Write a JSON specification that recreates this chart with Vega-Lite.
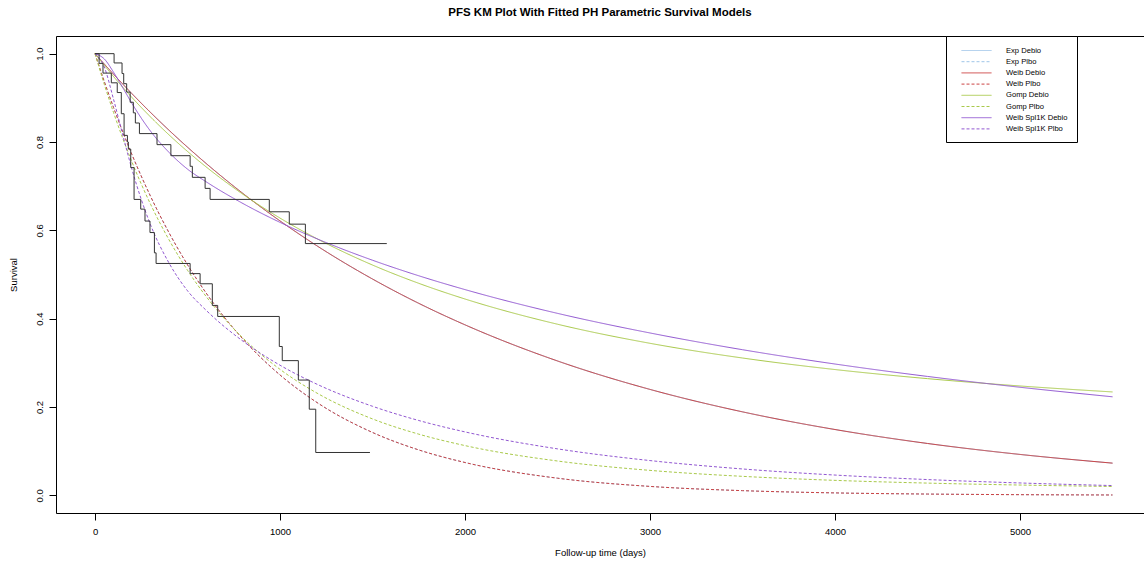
{
  "$schema": "https://vega.github.io/schema/vega-lite/v6.json",
  "width": 1088,
  "height": 477,
  "autosize": {"type": "none"},
  "padding": {"left": 56, "top": 36, "right": 0, "bottom": 52},
  "background": "white",
  "title": {"text": "PFS KM Plot With Fitted PH Parametric Survival Models", "font": "Liberation Sans", "fontSize": 11.5, "fontWeight": "bold", "color": "black", "anchor": "middle", "offset": 17},
  "config": {
    "view": {"stroke": "black", "strokeWidth": 1},
    "axis": {"domain": false, "grid": false, "ticks": true, "tickColor": "black", "tickSize": 7, "tickWidth": 1, "labelFont": "Liberation Sans", "labelFontSize": 9.5, "labelColor": "black", "titleFont": "Liberation Sans", "titleFontSize": 9.5, "titleFontWeight": "normal", "titleColor": "black"},
    "legend": {"orient": "none", "legendX": 890, "legendY": 0, "strokeColor": "black", "fillColor": "white", "padding": 9, "symbolType": "M-3,0H3", "symbolSize": 100, "symbolStrokeWidth": 1, "symbolOffset": 16, "labelOffset": 24, "rowPadding": 1.2, "labelFont": "Liberation Sans", "labelFontSize": 7.6, "labelColor": "black", "cornerRadius": 0}
  },
  "datasets": {
    "curves": [
      {"model":"Exp Debio","t":0,"S":1},{"model":"Exp Debio","t":50,"S":0.9765},{"model":"Exp Debio","t":100,"S":0.9535},{"model":"Exp Debio","t":150,"S":0.9311},{"model":"Exp Debio","t":200,"S":0.9092},{"model":"Exp Debio","t":300,"S":0.8669},{"model":"Exp Debio","t":400,"S":0.8266},{"model":"Exp Debio","t":500,"S":0.7882},{"model":"Exp Debio","t":600,"S":0.7516},{"model":"Exp Debio","t":800,"S":0.6833},{"model":"Exp Debio","t":1000,"S":0.6213},{"model":"Exp Debio","t":1200,"S":0.5648},{"model":"Exp Debio","t":1500,"S":0.4897},{"model":"Exp Debio","t":1750,"S":0.4347},{"model":"Exp Debio","t":2000,"S":0.386},{"model":"Exp Debio","t":2500,"S":0.3042},{"model":"Exp Debio","t":3000,"S":0.2398},{"model":"Exp Debio","t":3500,"S":0.189},{"model":"Exp Debio","t":4000,"S":0.149},{"model":"Exp Debio","t":4500,"S":0.1174},{"model":"Exp Debio","t":5000,"S":0.0926},{"model":"Exp Debio","t":5500,"S":0.0729},
      {"model":"Exp Plbo","t":0,"S":1},{"model":"Exp Plbo","t":50,"S":0.9371},{"model":"Exp Plbo","t":100,"S":0.8781},{"model":"Exp Plbo","t":150,"S":0.8228},{"model":"Exp Plbo","t":200,"S":0.7711},{"model":"Exp Plbo","t":300,"S":0.6771},{"model":"Exp Plbo","t":400,"S":0.5945},{"model":"Exp Plbo","t":500,"S":0.522},{"model":"Exp Plbo","t":600,"S":0.4584},{"model":"Exp Plbo","t":800,"S":0.3535},{"model":"Exp Plbo","t":1000,"S":0.2725},{"model":"Exp Plbo","t":1200,"S":0.2101},{"model":"Exp Plbo","t":1500,"S":0.1423},{"model":"Exp Plbo","t":1750,"S":0.1028},{"model":"Exp Plbo","t":2000,"S":0.0743},{"model":"Exp Plbo","t":2500,"S":0.0388},{"model":"Exp Plbo","t":3000,"S":0.0202},{"model":"Exp Plbo","t":3500,"S":0.0106},{"model":"Exp Plbo","t":4000,"S":0.0055},{"model":"Exp Plbo","t":4500,"S":0.0029},{"model":"Exp Plbo","t":5000,"S":0.0015},{"model":"Exp Plbo","t":5500,"S":0.0008},
      {"model":"Weib Debio","t":0,"S":1},{"model":"Weib Debio","t":50,"S":0.9765},{"model":"Weib Debio","t":100,"S":0.9535},{"model":"Weib Debio","t":150,"S":0.9311},{"model":"Weib Debio","t":200,"S":0.9092},{"model":"Weib Debio","t":300,"S":0.8669},{"model":"Weib Debio","t":400,"S":0.8266},{"model":"Weib Debio","t":500,"S":0.7882},{"model":"Weib Debio","t":600,"S":0.7516},{"model":"Weib Debio","t":800,"S":0.6833},{"model":"Weib Debio","t":1000,"S":0.6213},{"model":"Weib Debio","t":1200,"S":0.5648},{"model":"Weib Debio","t":1500,"S":0.4897},{"model":"Weib Debio","t":1750,"S":0.4347},{"model":"Weib Debio","t":2000,"S":0.386},{"model":"Weib Debio","t":2500,"S":0.3042},{"model":"Weib Debio","t":3000,"S":0.2398},{"model":"Weib Debio","t":3500,"S":0.189},{"model":"Weib Debio","t":4000,"S":0.149},{"model":"Weib Debio","t":4500,"S":0.1174},{"model":"Weib Debio","t":5000,"S":0.0926},{"model":"Weib Debio","t":5500,"S":0.0729},
      {"model":"Weib Plbo","t":0,"S":1},{"model":"Weib Plbo","t":50,"S":0.9371},{"model":"Weib Plbo","t":100,"S":0.8781},{"model":"Weib Plbo","t":150,"S":0.8228},{"model":"Weib Plbo","t":200,"S":0.7711},{"model":"Weib Plbo","t":300,"S":0.6771},{"model":"Weib Plbo","t":400,"S":0.5945},{"model":"Weib Plbo","t":500,"S":0.522},{"model":"Weib Plbo","t":600,"S":0.4584},{"model":"Weib Plbo","t":800,"S":0.3535},{"model":"Weib Plbo","t":1000,"S":0.2725},{"model":"Weib Plbo","t":1200,"S":0.2101},{"model":"Weib Plbo","t":1500,"S":0.1423},{"model":"Weib Plbo","t":1750,"S":0.1028},{"model":"Weib Plbo","t":2000,"S":0.0743},{"model":"Weib Plbo","t":2500,"S":0.0388},{"model":"Weib Plbo","t":3000,"S":0.0202},{"model":"Weib Plbo","t":3500,"S":0.0106},{"model":"Weib Plbo","t":4000,"S":0.0055},{"model":"Weib Plbo","t":4500,"S":0.0029},{"model":"Weib Plbo","t":5000,"S":0.0015},{"model":"Weib Plbo","t":5500,"S":0.0008},
      {"model":"Gomp Debio","t":0,"S":1},{"model":"Gomp Debio","t":50,"S":0.9736},{"model":"Gomp Debio","t":100,"S":0.9483},{"model":"Gomp Debio","t":150,"S":0.924},{"model":"Gomp Debio","t":200,"S":0.9006},{"model":"Gomp Debio","t":300,"S":0.8567},{"model":"Gomp Debio","t":400,"S":0.8161},{"model":"Gomp Debio","t":500,"S":0.7786},{"model":"Gomp Debio","t":600,"S":0.7438},{"model":"Gomp Debio","t":800,"S":0.6815},{"model":"Gomp Debio","t":1000,"S":0.6277},{"model":"Gomp Debio","t":1200,"S":0.5809},{"model":"Gomp Debio","t":1500,"S":0.5214},{"model":"Gomp Debio","t":1750,"S":0.48},{"model":"Gomp Debio","t":2000,"S":0.4445},{"model":"Gomp Debio","t":2500,"S":0.3874},{"model":"Gomp Debio","t":3000,"S":0.3442},{"model":"Gomp Debio","t":3500,"S":0.3109},{"model":"Gomp Debio","t":4000,"S":0.2848},{"model":"Gomp Debio","t":4500,"S":0.2642},{"model":"Gomp Debio","t":5000,"S":0.2476},{"model":"Gomp Debio","t":5500,"S":0.2341},
      {"model":"Gomp Plbo","t":0,"S":1},{"model":"Gomp Plbo","t":50,"S":0.9305},{"model":"Gomp Plbo","t":100,"S":0.8667},{"model":"Gomp Plbo","t":150,"S":0.8082},{"model":"Gomp Plbo","t":200,"S":0.7543},{"model":"Gomp Plbo","t":300,"S":0.6592},{"model":"Gomp Plbo","t":400,"S":0.5785},{"model":"Gomp Plbo","t":500,"S":0.5095},{"model":"Gomp Plbo","t":600,"S":0.4505},{"model":"Gomp Plbo","t":800,"S":0.356},{"model":"Gomp Plbo","t":1000,"S":0.2852},{"model":"Gomp Plbo","t":1200,"S":0.2314},{"model":"Gomp Plbo","t":1500,"S":0.173},{"model":"Gomp Plbo","t":1750,"S":0.1385},{"model":"Gomp Plbo","t":2000,"S":0.1126},{"model":"Gomp Plbo","t":2500,"S":0.0777},{"model":"Gomp Plbo","t":3000,"S":0.0565},{"model":"Gomp Plbo","t":3500,"S":0.043},{"model":"Gomp Plbo","t":4000,"S":0.0339},{"model":"Gomp Plbo","t":4500,"S":0.0277},{"model":"Gomp Plbo","t":5000,"S":0.0233},{"model":"Gomp Plbo","t":5500,"S":0.02},
      {"model":"Weib Spl1K Debio","t":0,"S":1},{"model":"Weib Spl1K Debio","t":50,"S":0.988},{"model":"Weib Spl1K Debio","t":100,"S":0.958},{"model":"Weib Spl1K Debio","t":150,"S":0.923},{"model":"Weib Spl1K Debio","t":200,"S":0.887},{"model":"Weib Spl1K Debio","t":300,"S":0.8245},{"model":"Weib Spl1K Debio","t":400,"S":0.7765},{"model":"Weib Spl1K Debio","t":500,"S":0.7385},{"model":"Weib Spl1K Debio","t":600,"S":0.7101},{"model":"Weib Spl1K Debio","t":800,"S":0.6606},{"model":"Weib Spl1K Debio","t":1000,"S":0.618},{"model":"Weib Spl1K Debio","t":1200,"S":0.5808},{"model":"Weib Spl1K Debio","t":1500,"S":0.5323},{"model":"Weib Spl1K Debio","t":1750,"S":0.4971},{"model":"Weib Spl1K Debio","t":2000,"S":0.4658},{"model":"Weib Spl1K Debio","t":2500,"S":0.412},{"model":"Weib Spl1K Debio","t":3000,"S":0.3676},{"model":"Weib Spl1K Debio","t":3500,"S":0.3297},{"model":"Weib Spl1K Debio","t":4000,"S":0.2973},{"model":"Weib Spl1K Debio","t":4500,"S":0.2692},{"model":"Weib Spl1K Debio","t":5000,"S":0.2447},{"model":"Weib Spl1K Debio","t":5500,"S":0.2231},
      {"model":"Weib Spl1K Plbo","t":0,"S":1},{"model":"Weib Spl1K Plbo","t":50,"S":0.9698},{"model":"Weib Spl1K Plbo","t":100,"S":0.8967},{"model":"Weib Spl1K Plbo","t":150,"S":0.8159},{"model":"Weib Spl1K Plbo","t":200,"S":0.7375},{"model":"Weib Spl1K Plbo","t":300,"S":0.6125},{"model":"Weib Spl1K Plbo","t":400,"S":0.5259},{"model":"Weib Spl1K Plbo","t":500,"S":0.4631},{"model":"Weib Spl1K Plbo","t":600,"S":0.4192},{"model":"Weib Spl1K Plbo","t":800,"S":0.3489},{"model":"Weib Spl1K Plbo","t":1000,"S":0.2946},{"model":"Weib Spl1K Plbo","t":1200,"S":0.2515},{"model":"Weib Spl1K Plbo","t":1500,"S":0.2016},{"model":"Weib Spl1K Plbo","t":1750,"S":0.1694},{"model":"Weib Spl1K Plbo","t":2000,"S":0.1436},{"model":"Weib Spl1K Plbo","t":2500,"S":0.1052},{"model":"Weib Spl1K Plbo","t":3000,"S":0.0787},{"model":"Weib Spl1K Plbo","t":3500,"S":0.0597},{"model":"Weib Spl1K Plbo","t":4000,"S":0.0459},{"model":"Weib Spl1K Plbo","t":4500,"S":0.0357},{"model":"Weib Spl1K Plbo","t":5000,"S":0.028},{"model":"Weib Spl1K Plbo","t":5500,"S":0.0221}
    ],
    "km": [
      {"arm":"Debio","t":0,"S":1},{"arm":"Debio","t":103,"S":0.979},{"arm":"Debio","t":146,"S":0.955},{"arm":"Debio","t":155,"S":0.932},{"arm":"Debio","t":171,"S":0.913},{"arm":"Debio","t":190,"S":0.89},{"arm":"Debio","t":207,"S":0.866},{"arm":"Debio","t":218,"S":0.843},{"arm":"Debio","t":240,"S":0.819},{"arm":"Debio","t":335,"S":0.794},{"arm":"Debio","t":410,"S":0.769},{"arm":"Debio","t":514,"S":0.745},{"arm":"Debio","t":526,"S":0.72},{"arm":"Debio","t":595,"S":0.695},{"arm":"Debio","t":622,"S":0.67},{"arm":"Debio","t":942,"S":0.642},{"arm":"Debio","t":1050,"S":0.614},{"arm":"Debio","t":1137,"S":0.57},{"arm":"Debio","t":1577,"S":0.57},
      {"arm":"Plbo","t":0,"S":1},{"arm":"Plbo","t":22,"S":0.978},{"arm":"Plbo","t":43,"S":0.956},{"arm":"Plbo","t":88,"S":0.934},{"arm":"Plbo","t":120,"S":0.912},{"arm":"Plbo","t":142,"S":0.864},{"arm":"Plbo","t":157,"S":0.815},{"arm":"Plbo","t":175,"S":0.8},{"arm":"Plbo","t":180,"S":0.784},{"arm":"Plbo","t":193,"S":0.742},{"arm":"Plbo","t":211,"S":0.67},{"arm":"Plbo","t":247,"S":0.648},{"arm":"Plbo","t":270,"S":0.621},{"arm":"Plbo","t":297,"S":0.595},{"arm":"Plbo","t":321,"S":0.549},{"arm":"Plbo","t":330,"S":0.525},{"arm":"Plbo","t":514,"S":0.502},{"arm":"Plbo","t":568,"S":0.479},{"arm":"Plbo","t":634,"S":0.43},{"arm":"Plbo","t":663,"S":0.405},{"arm":"Plbo","t":996,"S":0.337},{"arm":"Plbo","t":1012,"S":0.305},{"arm":"Plbo","t":1099,"S":0.261},{"arm":"Plbo","t":1158,"S":0.195},{"arm":"Plbo","t":1193,"S":0.097},{"arm":"Plbo","t":1486,"S":0.097}
    ]
  },
  "layer": [
    {
      "data": {"name": "curves"},
      "mark": {"type": "line", "strokeWidth": 1, "interpolate": "monotone"},
      "encoding": {
        "x": {"field": "t", "type": "quantitative", "scale": {"domain": [-211, 5670], "nice": false, "zero": false}, "axis": {"values": [0, 1000, 2000, 3000, 4000, 5000], "format": "d", "title": "Follow-up time (days)", "labelPadding": 6, "titlePadding": 12, "labelFlush": false}},
        "y": {"field": "S", "type": "quantitative", "scale": {"domain": [-0.04, 1.04], "nice": false, "zero": false}, "axis": {"values": [0, 0.2, 0.4, 0.6, 0.8, 1.0], "format": ".1f", "title": "Survival", "labelAngle": 270, "labelAlign": "center", "labelBaseline": "alphabetic", "labelPadding": 7, "titlePadding": 16, "labelFlush": false}},
        "color": {"field": "model", "type": "nominal", "scale": {"domain": ["Exp Debio", "Exp Plbo", "Weib Debio", "Weib Plbo", "Gomp Debio", "Gomp Plbo", "Weib Spl1K Debio", "Weib Spl1K Plbo"], "range": ["#9FC5E8", "#9FC5E8", "#CC4444", "#CC4444", "#A9C94A", "#A9C94A", "#9157D1", "#9157D1"]}, "legend": {"title": null}},
        "strokeDash": {"field": "model", "type": "nominal", "scale": {"domain": ["Exp Debio", "Exp Plbo", "Weib Debio", "Weib Plbo", "Gomp Debio", "Gomp Plbo", "Weib Spl1K Debio", "Weib Spl1K Plbo"], "range": [[1, 0], [3, 2], [1, 0], [3, 2], [1, 0], [3, 2], [1, 0], [3, 2]]}, "legend": {"title": null}}
      }
    },
    {
      "data": {"name": "km"},
      "mark": {"type": "line", "strokeWidth": 1, "interpolate": "step-after", "color": "#333333"},
      "encoding": {
        "x": {"field": "t", "type": "quantitative"},
        "y": {"field": "S", "type": "quantitative"},
        "detail": {"field": "arm", "type": "nominal"}
      }
    }
  ]
}
